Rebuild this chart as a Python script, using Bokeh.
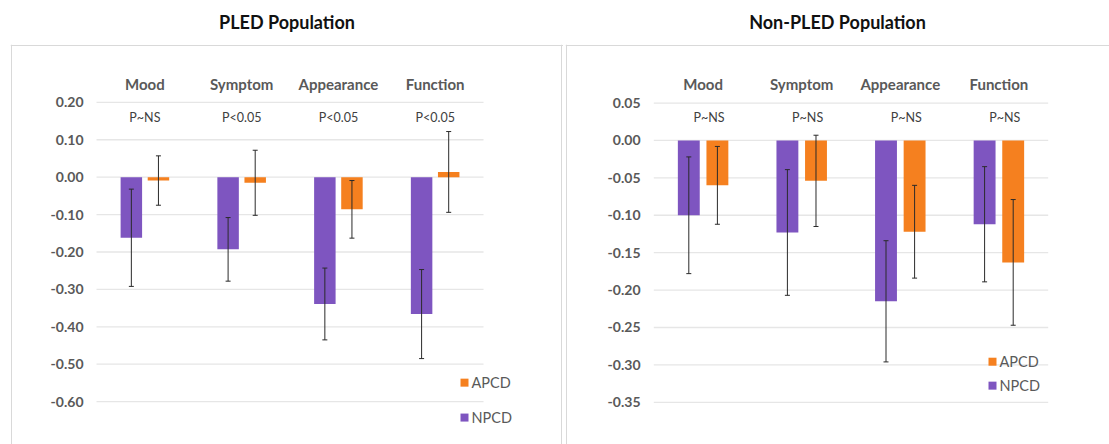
from bokeh.plotting import figure
from bokeh.layouts import row
from bokeh.models import ColumnDataSource, Whisker, TeeHead, Span, Range1d
from bokeh.core.properties import value
from bokeh.embed import file_html
from bokeh.resources import INLINE

categories = ["Mood", "Symptom", "Appearance", "Function"]

pled_title = "PLED Population"
pled_p = ["P~NS", "P<0.05", "P<0.05", "P<0.05"]
pled_npcd = [-0.162, -0.193, -0.339, -0.366]
pled_npcd_err = [0.130, 0.085, 0.096, 0.119]
pled_apcd = [-0.009, -0.015, -0.086, 0.014]
pled_apcd_err = [0.066, 0.087, 0.077, 0.108]
pled_ticks = [0.20, 0.10, 0.00, -0.10, -0.20, -0.30, -0.40, -0.50, -0.60]
pled_tick_labels = ["0.20", "0.10", "0.00", "-0.10", "-0.20", "-0.30", "-0.40", "-0.50", "-0.60"]

non_title = "Non-PLED Population"
non_p = ["P~NS", "P~NS", "P~NS", "P~NS"]
non_npcd = [-0.100, -0.123, -0.215, -0.112]
non_npcd_err = [0.078, 0.084, 0.081, 0.077]
non_apcd = [-0.060, -0.054, -0.122, -0.163]
non_apcd_err = [0.052, 0.061, 0.062, 0.084]
non_ticks = [0.05, 0.00, -0.05, -0.10, -0.15, -0.20, -0.25, -0.30, -0.35]
non_tick_labels = ["0.05", "0.00", "-0.05", "-0.10", "-0.15", "-0.20", "-0.25", "-0.30", "-0.35"]

series_names = ["APCD", "NPCD"]

PURPLE = "#7E55C0"
ORANGE = "#F5801F"
GRID = "#E6E6E6"
BORDER = "#D9D9D9"
LABEL = "#595959"
FONT = "Lato"


def make_panel(title, pvals, npcd, npcd_err, apcd, apcd_err, ticks, tick_labels,
               width, frame_left_px, frame_right_px, cat_px, cat0_px,
               px_per_unit, top_tick_px, border_left_px, border_right_px,
               offset, pval_shift, legend_px, legend_y_px, title_offset,
               min_left, tick_label_px):
    frame_top = 43
    frame_bottom = 444
    x0 = (frame_left_px - cat0_px) / cat_px
    x1 = (frame_right_px - cat0_px) / cat_px
    y1 = ticks[0] + (top_tick_px - frame_top) / px_per_unit
    y0 = y1 - (frame_bottom - frame_top) / px_per_unit

    def px2x(px):
        return (px - cat0_px) / cat_px

    def px2y(py):
        return y1 - (py - frame_top) / px_per_unit

    p = figure(width=width, height=444, output_backend="svg", toolbar_location=None,
               x_range=Range1d(x0, x1), y_range=Range1d(y0, y1),
               min_border_left=min_left, min_border_right=0,
               min_border_top=frame_top, min_border_bottom=0,
               outline_line_color=None, background_fill_color="white",
               border_fill_color="white")
    p.xaxis.visible = False
    p.yaxis.visible = False
    p.xgrid.grid_line_color = None
    p.ygrid.grid_line_color = None

    p.title.text = title
    p.title.align = "center"
    p.title.text_font = FONT
    p.title.text_font_size = "18px"
    p.title.text_font_style = "bold"
    p.title.text_color = "#111111"
    p.title.offset = title_offset
    p.title.standoff = 20
    p.title.vertical_align = "top"

    # box borders
    p.add_layout(Span(location=px2x(border_left_px), dimension="height",
                      line_color=BORDER, line_width=1))
    if border_right_px is not None:
        p.add_layout(Span(location=px2x(border_right_px), dimension="height",
                          line_color=BORDER, line_width=1))
    p.add_layout(Span(location=px2y(44), dimension="width",
                      line_color=BORDER, line_width=1))

    # gridlines
    n = len(categories)
    p.segment(x0=[-0.5] * len(ticks), x1=[n - 0.5] * len(ticks), y0=ticks, y1=ticks,
              line_color=GRID, line_width=1.3)

    # tick labels
    p.text(x=[px2x(tick_label_px)] * len(ticks), y=ticks, text=tick_labels,
           text_align="right", text_baseline="middle", text_font=value(FONT),
           text_font_size="14px", text_font_style="bold", text_color=LABEL)

    xs = list(range(n))
    # bars
    p.vbar(x=[i - offset for i in xs], top=npcd, bottom=0, width=0.222,
           fill_color=PURPLE, line_color=None)
    p.vbar(x=[i + offset for i in xs], top=apcd, bottom=0, width=0.222,
           fill_color=ORANGE, line_color=None)

    # error bars
    src_n = ColumnDataSource(dict(x=[i - offset for i in xs],
                                  up=[v + e for v, e in zip(npcd, npcd_err)],
                                  lo=[v - e for v, e in zip(npcd, npcd_err)]))
    src_a = ColumnDataSource(dict(x=[i + offset for i in xs],
                                  up=[v + e for v, e in zip(apcd, apcd_err)],
                                  lo=[v - e for v, e in zip(apcd, apcd_err)]))
    for src in (src_n, src_a):
        w = Whisker(source=src, base="x", upper="up", lower="lo",
                    line_color="#2a2a2a", line_width=1, level="overlay",
                    upper_head=TeeHead(size=5, line_color="#2a2a2a", line_width=1),
                    lower_head=TeeHead(size=5, line_color="#2a2a2a", line_width=1))
        p.add_layout(w)

    # category labels
    p.text(x=xs, y=[px2y(83)] * n, text=categories, text_align="center",
           text_baseline="middle", text_font=value(FONT), text_font_size="15px",
           text_font_style="bold", text_color=LABEL)
    # p-values
    p.text(x=[i + pval_shift for i in xs], y=[px2y(116)] * n, text=pvals,
           text_align="center", text_baseline="middle", text_font=value(FONT),
           text_font_size="12.5px", text_color="#404040")

    # legend
    lx = px2x(legend_px)
    ly = [px2y(legend_y_px[0]), px2y(legend_y_px[1])]
    p.scatter(x=[lx, lx], y=ly, marker="square", size=8,
              fill_color=[ORANGE, PURPLE], line_color=None)
    p.text(x=[px2x(legend_px + 7)] * 2, y=ly, text=series_names,
           text_align="left", text_baseline="middle", text_font=value(FONT),
           text_font_size="14.5px", text_color=LABEL)
    return p


p1 = make_panel(pled_title, pled_p, pled_npcd, pled_npcd_err, pled_apcd, pled_apcd_err,
                pled_ticks, pled_tick_labels,
                width=563, frame_left_px=10, frame_right_px=563, cat_px=96.75,
                cat0_px=144.4, px_per_unit=375.0, top_tick_px=101,
                border_left_px=11, border_right_px=561, offset=0.14, pval_shift=0.0,
                legend_px=464, legend_y_px=(382, 417), title_offset=0, min_left=10,
                tick_label_px=83)

p2 = make_panel(non_title, non_p, non_npcd, non_npcd_err, non_apcd, non_apcd_err,
                non_ticks, non_tick_labels,
                width=546, frame_left_px=565, frame_right_px=1109, cat_px=98.6,
                cat0_px=702.6, px_per_unit=750.0, top_tick_px=101.7,
                border_left_px=566, border_right_px=None, offset=0.145, pval_shift=0.06,
                legend_px=992, legend_y_px=(361, 385), title_offset=14, min_left=2,
                tick_label_px=640)

layout = row(p1, p2, spacing=0)
open("out.html", "w").write(file_html(layout, INLINE))
